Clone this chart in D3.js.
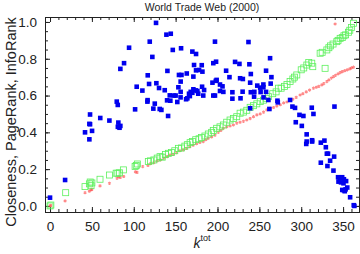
<!DOCTYPE html>
<html>
<head>
<meta charset="utf-8">
<script src="https://cdn.jsdelivr.net/npm/d3@7"></script>
<style>
  body { margin: 0; background: #fff; }
  svg { display: block; font-family: "Liberation Sans", Arial, sans-serif; }
</style>
</head>
<body>
<svg id="chart" width="360" height="254"></svg>
<script>
// values: [k_tot, value]
const infoRank = [
  [0,0.045],[18,0.141],[41.8,0.4],[47,0.446],[50.2,0.408],[47,0.362],[47.8,0.497],[47.8,0.444],
  [60,0.478],[70.9,0.464],[81.6,0.453],[81,0.43],[83,0.425],[84,0.435],[79.7,0.567],[80.9,0.549],
  [84,0.745],[88.4,0.776],[94.4,0.86],[101.6,0.525],[103.5,0.648],[110.3,0.627],[116.7,0.71],
  [118.3,0.663],[116.3,0.567],[116.5,0.575],[119.1,0.893],[122.2,0.81],[123.4,0.529],[125.1,0.556],
  [126.6,0.995],[127,0.667],[130.2,0.641],[131,0.527],[133,0.522],[137,0.629],[139,0.931],
  [139.8,0.574],[140.2,0.734],[141,0.489],[143,0.601],[143.7,0.572],[144.2,0.936],[146.6,0.848],
  [148,0.6],[150,0.6],[152,0.565],[153.3,0.645],[154,0.712],[157,0.712],[156,0.676],[156.5,0.857],
  [156,0.62],[155.9,0.59],[162.5,0.58],[163.3,0.72],[167,0.597],[168,0.62],[170,0.839],[174.4,0.826],
  [172,0.766],[174.4,0.737],[178,0.739],[181.2,0.765],[182,0.73],[171.2,0.703],[171.2,0.634],
  [166,0.61],[170,0.615],[174,0.628],[176,0.625],[164,0.585],[177,0.61],[181.6,0.648],[184,0.63],
  [183,0.6],[197,0.893],[198.3,0.784],[195,0.776],[194,0.67],[198,0.68],[199,0.685],[195,0.6],
  [197,0.6],[203,0.66],[206,0.65],[203,0.625],[207,0.62],[210.3,0.735],[214.3,0.7],[217.8,0.618],
  [217.8,0.583],[221,0.783],[226.2,0.772],[227,0.694],[230.3,0.69],[230,0.621],[227.5,0.585],
  [237,0.891],[238.1,0.77],[239.8,0.717],[239,0.67],[239.8,0.618],[244,0.62],[243.7,0.594],
  [247.5,0.654],[251,0.643],[251.5,0.619],[254.8,0.66],[254.8,0.645],[258,0.735],[262.8,0.803],
  [264.4,0.7],[263.5,0.665],[258,0.62],[255,0.59],[260.8,0.576],[239,0.531],[262,0.527],
  [271.6,0.572],[272,0.563],[286.7,0.576],[289.5,0.54],[292.6,0.533],[297.9,0.495],[302.6,0.489],
  [300.7,0.435],[293.5,0.455],[306.5,0.389],[306,0.337],[306.5,0.35],[313,0.35],[313,0.357],
  [312.6,0.534],[314.6,0.5],[339.7,0.54],[323.4,0.344],[327.7,0.355],[329.4,0.319],[330.6,0.284],
  [332,0.284],[323.4,0.235],[331.3,0.217],[334.5,0.246],[339.3,0.268],[338.5,0.192],[344,0.156],
  [346,0.15],[348.9,0.156],[351,0.145],[344.5,0.132],[347.5,0.128],[350.5,0.123],[353.6,0.135],
  [349,0.087],[351,0.085],[353,0.09],[352,0.08],[355,0.1],[358.4,0.047],[362.7,0.004],[363.5,0.0]
];

const pageRank = [
  [0,0],[1,0.005],[18.7,0.072],[41.8,0.105],[47,0.12],[48,0.13],[49,0.11],[50,0.125],[59.7,0.145],
  [71,0.168],[79,0.178],[81,0.178],[83,0.18],[87.6,0.196],[101.6,0.214],[104.3,0.228],[103,0.22],
  [117.4,0.241],[120,0.245],[124,0.25],[128,0.26],[131.4,0.268],[134,0.265],[138,0.28],[141.3,0.286],
  [145,0.29],[149,0.3],[153.3,0.313],[157,0.315],[161,0.325],[164,0.333],[167.3,0.344],[170,0.35],
  [174,0.36],[178,0.365],[181,0.372],[185,0.38],[189,0.391],[193,0.4],[195,0.41],[199,0.422],
  [203,0.43],[207,0.44],[211,0.455],[215,0.467],[219,0.475],[223,0.485],[227,0.504],[231,0.51],
  [235,0.52],[239,0.536],[243,0.545],[247,0.555],[251,0.567],[255,0.575],[258,0.585],[260.8,0.594],
  [266,0.61],[270,0.62],[272.8,0.64],[276,0.64],[280,0.65],[283,0.66],[286.7,0.676],[290,0.69],
  [292,0.7],[294.7,0.712],[300,0.74],[303,0.75],[306.7,0.766],[309,0.78],[312.6,0.776],[313.8,0.757],
  [322.6,0.83],[325,0.835],[328.5,0.748],[330.6,0.848],[333,0.86],[335,0.87],[338,0.88],[342.5,0.893],
  [344,0.9],[346.5,0.911],[349,0.915],[351,0.925],[353,0.93],[356.4,0.944],[358,0.955],[360,0.97],
  [362.4,0.993]
];

const closeness = [
  [0,0],[1,0.003],[18,0.027],[41.8,0.072],[47,0.08],[49,0.087],[50,0.09],[59.7,0.109],[71,0.123],
  [80,0.15],[82,0.158],[84,0.155],[88,0.16],[102,0.185],[104,0.182],[110.7,0.214],[117,0.22],
  [120,0.23],[124,0.235],[128,0.245],[132,0.25],[136,0.26],[140,0.268],[143.4,0.277],[147,0.28],
  [151,0.29],[155,0.3],[159,0.305],[163,0.313],[167,0.322],[171,0.33],[175,0.338],[179,0.345],
  [183,0.35],[186,0.36],[189,0.368],[193,0.375],[197,0.385],[201,0.4],[204,0.41],[207,0.422],
  [211,0.43],[215,0.435],[219,0.44],[223,0.45],[227,0.455],[231,0.46],[235,0.467],[239,0.475],
  [243,0.485],[247,0.495],[251,0.5],[255,0.51],[259,0.522],[263,0.53],[267,0.535],[270.9,0.543],
  [275,0.55],[279,0.56],[283,0.565],[286.7,0.576],[290,0.58],[294,0.59],[298.7,0.603],[302,0.61],
  [306,0.62],[310,0.63],[314.6,0.64],[318,0.645],[321,0.65],[324.6,0.658],[327,0.665],[330.6,0.676],
  [333,0.685],[336,0.695],[338.5,0.703],[341,0.71],[344,0.718],[346.5,0.725],[349,0.73],[352,0.735],
  [355,0.74],[358,0.745],[360,0.75],[362.4,0.754],[340.5,0.989]
];

const xTicks = [0, 50, 100, 150, 200, 250, 300, 350];
const yTicks = [0, 0.2, 0.4, 0.6, 0.8, 1.0];

const svg = d3.select("#chart");
const frame = { left: 45, right: 359, top: 17, bottom: 212 };

const x = d3.scaleLinear().domain([-6, 369]).range([frame.left, frame.right]);
const y = d3.scaleLinear().domain([-0.033, 1.027]).range([frame.bottom, frame.top]);

// frame with inward ticks on all four sides
function drawAxis(axis, tx, ty, labels) {
  const g = svg.append("g").attr("transform", `translate(${tx},${ty})`).call(axis);
  g.select(".domain").attr("stroke", "#222");
  g.selectAll(".tick line").attr("stroke", "#222");
  g.selectAll("text").attr("fill", "#222").style("font-size", "13.5px");
  if (!labels) g.selectAll("text").remove();
  return g;
}
const xMinor = d3.range(0, 370, 10);
const yMinor = d3.range(0, 1.03, 0.05);

drawAxis(d3.axisBottom(x).tickValues(xMinor).tickSize(-3).tickFormat(""), 0, frame.bottom, false);
drawAxis(d3.axisTop(x).tickValues(xMinor).tickSize(-3).tickFormat(""), 0, frame.top, false);
drawAxis(d3.axisLeft(y).tickValues(yMinor).tickSize(-3).tickFormat(""), frame.left, 0, false);
drawAxis(d3.axisRight(y).tickValues(yMinor).tickSize(-3).tickFormat(""), frame.right, 0, false);

drawAxis(d3.axisBottom(x).tickValues(xTicks).tickSize(-5).tickPadding(9).tickFormat(d3.format("d")), 0, frame.bottom, true);
drawAxis(d3.axisTop(x).tickValues(xTicks).tickSize(-5).tickFormat(""), 0, frame.top, false);
drawAxis(d3.axisLeft(y).tickValues(yTicks).tickSize(-5).tickPadding(8).tickFormat(d3.format(".1f")), frame.left, 0, true);
drawAxis(d3.axisRight(y).tickValues(yTicks).tickSize(-5).tickFormat(""), frame.right, 0, false);

// closeness: small light red stars
svg.append("g").selectAll("path")
  .data(closeness)
  .join("path")
  .attr("d", d3.symbol(d3.symbolAsterisk, 7))
  .attr("transform", d => `translate(${x(d[0])},${y(d[1])})`)
  .attr("fill", "none")
  .attr("stroke", "#ff4c4c")
  .attr("stroke-opacity", 0.65)
  .attr("stroke-width", 1.1);

// pagerank: open green squares
svg.append("g").selectAll("rect")
  .data(pageRank)
  .join("rect")
  .attr("x", d => x(d[0]) - 3)
  .attr("y", d => y(d[1]) - 3)
  .attr("width", 6)
  .attr("height", 6)
  .attr("fill", "none")
  .attr("stroke", "#5cf05c")
  .attr("stroke-width", 0.8);

// inforank: filled blue squares
svg.append("g").selectAll("rect")
  .data(infoRank)
  .join("rect")
  .attr("x", d => x(d[0]) - 2.3)
  .attr("y", d => y(d[1]) - 2.3)
  .attr("width", 4.6)
  .attr("height", 4.6)
  .attr("fill", "#0000ee");

// title and axis labels
svg.append("text")
  .attr("x", 202).attr("y", 11)
  .attr("text-anchor", "middle")
  .style("font-size", "10.5px")
  .attr("fill", "#222")
  .text("World Trade Web (2000)");

svg.append("text")
  .attr("transform", "translate(16,122) rotate(-90)")
  .attr("text-anchor", "middle")
  .style("font-size", "14.5px")
  .attr("fill", "#222")
  .text("Closeness, PageRank, InfoRank");

const xl = svg.append("text")
  .attr("x", 202).attr("y", 248)
  .attr("text-anchor", "middle")
  .attr("fill", "#222");
xl.append("tspan").style("font-style", "italic").style("font-size", "14px").text("k");
xl.append("tspan").attr("dy", -7).style("font-size", "9px").text("tot");
</script>
</body>
</html>
